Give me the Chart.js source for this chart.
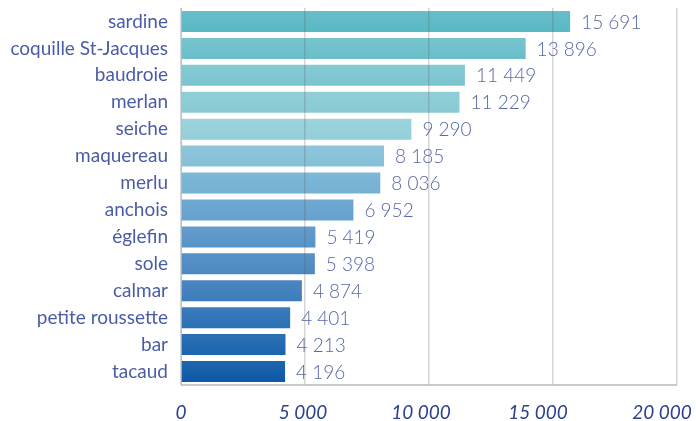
<!DOCTYPE html>
<html><head><meta charset="utf-8">
<script src="https://cdn.jsdelivr.net/npm/chart.js@4"></script>
<style>html,body{margin:0;padding:0;background:#fff;}#wrap{width:696px;height:421px;position:relative;}</style>
</head><body><div id="wrap"><canvas id="c"></canvas></div>
<script>
const categories = ["sardine","coquille St-Jacques","baudroie","merlan","seiche","maquereau","merlu","anchois","églefin","sole","calmar","petite roussette","bar","tacaud"];
const values = [15691,13896,11449,11229,9290,8185,8036,6952,5419,5398,4874,4401,4213,4196];
const xTicks = [0,5000,10000,15000,20000];
const barColors = ["#5ab8c5","#6abfca","#7bc5cf","#88cad4","#93cfd9","#84c0d8","#74b1d3","#64a2ce","#5693c8","#4b88c2","#3c7cbc","#2a70b6","#1b64af","#0c58a6"];
const xTickNudge = [0,-2,-8,-15,-15];

function fmt(v){return String(v).replace(/\B(?=(\d{3})+(?!\d))/g,' ');}
function lighten(hex,f){const n=parseInt(hex.slice(1),16);let r=n>>16,g=(n>>8)&255,b=n&255;r=Math.round(r+(255-r)*f);g=Math.round(g+(255-g)*f);b=Math.round(b+(255-b)*f);return `rgb(${r},${g},${b})`;}
const FONT = "Lato";

const helpers = {
  id:'helpers',
  beforeDatasetsDraw(chart){
    const ctx = chart.ctx; const meta = chart.getDatasetMeta(0);
    meta.data.forEach((el,i)=>{
      const h = el.height; const g = ctx.createLinearGradient(0, el.y - h/2, 0, el.y + h/2);
      g.addColorStop(0, lighten(barColors[i], 0.08)); g.addColorStop(1, barColors[i]);
      el.options.backgroundColor = g;
    });
  },
  afterDatasetsDraw(chart){
    const ctx = chart.ctx; const meta = chart.getDatasetMeta(0);
    ctx.save();
    ctx.font = "300 19px " + FONT;
    ctx.fillStyle = "#5667a8";
    ctx.textAlign = "left"; ctx.textBaseline = "middle";
    meta.data.forEach((el,i)=>{ ctx.fillText(fmt(values[i]), el.x + 11, el.y + 1); });
    ctx.restore();
  },
  afterDraw(chart){
    const ctx = chart.ctx, a = chart.chartArea, xs = chart.scales.x;
    ctx.save();
    ctx.strokeStyle = "#b8b8b8"; ctx.lineWidth = 1.5;
    ctx.beginPath(); ctx.moveTo(a.left, a.bottom); ctx.lineTo(a.right, a.bottom); ctx.stroke();
    ctx.font = "italic 19px " + FONT;
    ctx.fillStyle = "#2e4190"; ctx.textAlign = "center"; ctx.textBaseline = "middle";
    xTicks.forEach((v,i)=>{ ctx.fillText(fmt(v), xs.getPixelForValue(v) + xTickNudge[i], a.bottom + 28); });
    ctx.restore();
  }
};

new Chart(document.getElementById('c'), {
  type:'bar',
  data:{labels:categories, datasets:[{data:values, backgroundColor:barColors, borderWidth:0, barPercentage:0.78, categoryPercentage:1}]},
  options:{
    indexAxis:'y', responsive:true, maintainAspectRatio:false, animation:false,
    layout:{padding:{top:8,right:19,bottom:0,left:0}},
    plugins:{legend:{display:false}, tooltip:{enabled:false}},
    scales:{
      x:{min:0,max:20000,
         afterBuildTicks(s){s.ticks = xTicks.map(v=>({value:v}));},
         afterFit(s){s.height = 36; s.paddingLeft = 0; s.paddingRight = 0;},
         grid:{color:"rgba(90,90,90,0.25)", lineWidth:1.5, z:1, drawTicks:false},
         border:{display:false},
         ticks:{display:false}
      },
      y:{
         afterFit(s){s.width = 181; s.paddingTop = 0; s.paddingBottom = 0;},
         grid:{display:false, drawTicks:false},
         border:{display:true,color:"#d0d0d0",width:1},
         ticks:{padding:13, color:"#4a5ca8", font:{family:FONT,size:19}, autoSkip:false}
      }
    }
  },
  plugins:[helpers]
});
</script></body></html>
